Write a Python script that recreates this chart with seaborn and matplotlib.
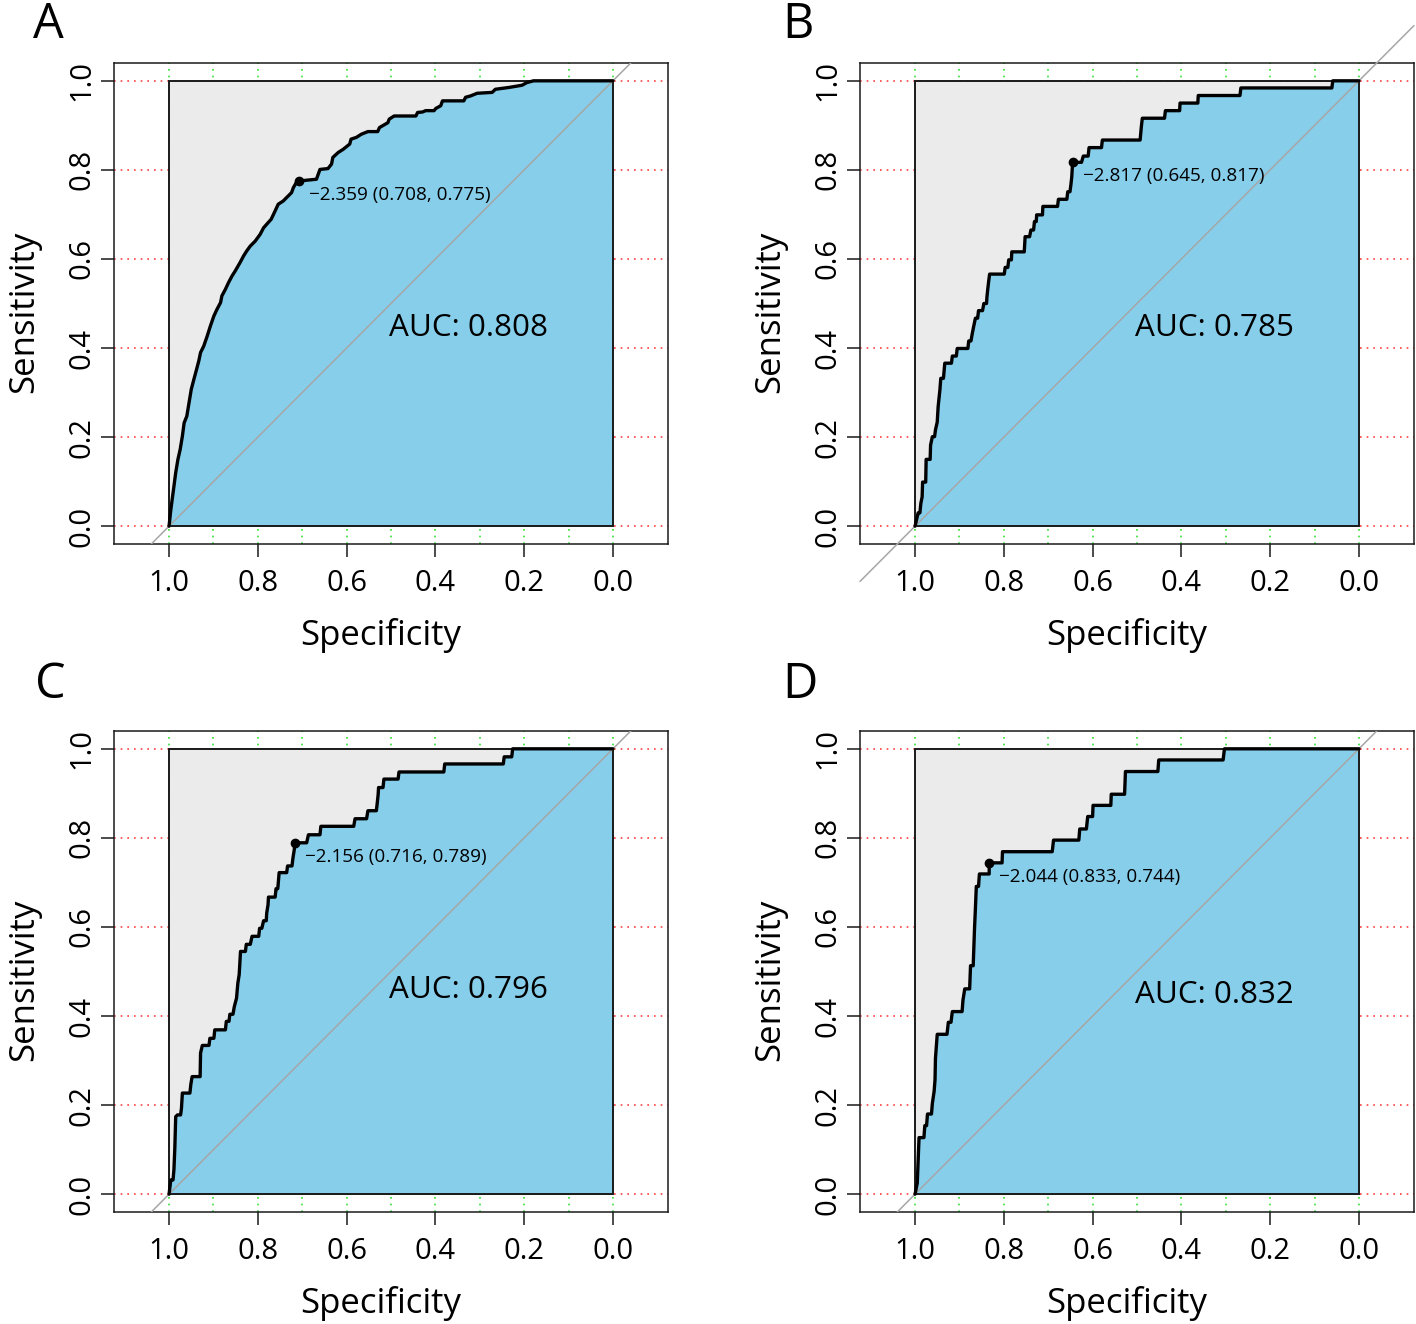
import numpy as np
import seaborn as sns
import matplotlib.pyplot as plt

# ROC coordinates (specificity, sensitivity)
spec_a = [1.000, 0.996, 0.990, 0.985, 0.980, 0.975, 0.970, 0.966, 0.960, 0.955,
          0.950, 0.944, 0.938, 0.933, 0.929, 0.922, 0.914, 0.907, 0.899, 0.892,
          0.884, 0.881, 0.873, 0.866, 0.858, 0.851, 0.840, 0.832, 0.825, 0.817,
          0.806, 0.795, 0.787, 0.780, 0.770, 0.761, 0.754, 0.743, 0.731, 0.724,
          0.720, 0.713, 0.708, 0.668, 0.664, 0.660, 0.642, 0.634, 0.631, 0.619,
          0.608, 0.593, 0.590, 0.578, 0.567, 0.552, 0.530, 0.526, 0.507, 0.504,
          0.493, 0.444, 0.440, 0.429, 0.422, 0.403, 0.399, 0.388, 0.384, 0.336,
          0.332, 0.321, 0.306, 0.272, 0.265, 0.235, 0.205, 0.194, 0.179, 0.000]
sens_a = [0.000, 0.037, 0.082, 0.120, 0.150, 0.172, 0.202, 0.232, 0.247, 0.277,
          0.307, 0.330, 0.352, 0.371, 0.390, 0.404, 0.427, 0.449, 0.472, 0.487,
          0.502, 0.517, 0.532, 0.547, 0.562, 0.573, 0.592, 0.607, 0.618, 0.629,
          0.640, 0.655, 0.670, 0.678, 0.689, 0.708, 0.723, 0.730, 0.742, 0.749,
          0.760, 0.772, 0.775, 0.779, 0.790, 0.801, 0.803, 0.813, 0.828, 0.839,
          0.846, 0.858, 0.869, 0.873, 0.880, 0.886, 0.886, 0.895, 0.906, 0.914,
          0.921, 0.921, 0.929, 0.930, 0.933, 0.933, 0.938, 0.944, 0.955, 0.955,
          0.963, 0.966, 0.972, 0.974, 0.981, 0.985, 0.990, 0.996, 1.000, 1.000]

spec_b = [1.000, 0.996, 0.993, 0.989, 0.987, 0.984, 0.983, 0.976, 0.975, 0.966,
          0.965, 0.961, 0.956, 0.954, 0.950, 0.948, 0.944, 0.942, 0.936, 0.933,
          0.918, 0.916, 0.907, 0.905, 0.881, 0.879, 0.874, 0.871, 0.868, 0.864,
          0.859, 0.857, 0.848, 0.845, 0.839, 0.838, 0.836, 0.834, 0.832, 0.799,
          0.797, 0.791, 0.789, 0.783, 0.782, 0.754, 0.752, 0.742, 0.739, 0.733,
          0.731, 0.727, 0.726, 0.713, 0.712, 0.679, 0.677, 0.658, 0.656, 0.651,
          0.649, 0.647, 0.645, 0.625, 0.621, 0.610, 0.608, 0.580, 0.578, 0.493,
          0.490, 0.488, 0.438, 0.436, 0.404, 0.403, 0.363, 0.362, 0.268, 0.266,
          0.061, 0.059, 0.000]
sens_b = [0.000, 0.017, 0.030, 0.030, 0.051, 0.066, 0.099, 0.099, 0.150, 0.150,
          0.182, 0.201, 0.201, 0.216, 0.234, 0.268, 0.306, 0.332, 0.332, 0.366,
          0.366, 0.382, 0.382, 0.399, 0.399, 0.416, 0.416, 0.433, 0.448, 0.467,
          0.467, 0.484, 0.484, 0.500, 0.500, 0.515, 0.534, 0.551, 0.566, 0.566,
          0.581, 0.581, 0.598, 0.598, 0.616, 0.616, 0.650, 0.650, 0.665, 0.665,
          0.684, 0.684, 0.699, 0.699, 0.718, 0.718, 0.734, 0.734, 0.751, 0.751,
          0.766, 0.784, 0.817, 0.817, 0.831, 0.831, 0.850, 0.850, 0.867, 0.867,
          0.899, 0.916, 0.916, 0.933, 0.933, 0.950, 0.950, 0.967, 0.967, 0.984,
          0.984, 1.000, 1.000]

spec_c = [1.000, 0.996, 0.991, 0.989, 0.987, 0.985, 0.981, 0.974, 0.972, 0.970,
          0.953, 0.951, 0.948, 0.930, 0.929, 0.925, 0.910, 0.908, 0.899, 0.897,
          0.873, 0.871, 0.865, 0.863, 0.856, 0.853, 0.848, 0.845, 0.842, 0.839,
          0.828, 0.826, 0.817, 0.813, 0.798, 0.796, 0.791, 0.787, 0.781, 0.780,
          0.777, 0.776, 0.761, 0.759, 0.755, 0.752, 0.735, 0.733, 0.723, 0.721,
          0.718, 0.716, 0.690, 0.686, 0.660, 0.658, 0.584, 0.581, 0.555, 0.552,
          0.533, 0.531, 0.529, 0.528, 0.518, 0.516, 0.484, 0.482, 0.381, 0.379,
          0.247, 0.245, 0.228, 0.226, 0.000]
sens_c = [0.000, 0.032, 0.032, 0.055, 0.103, 0.174, 0.178, 0.178, 0.193, 0.227,
          0.227, 0.246, 0.264, 0.264, 0.317, 0.334, 0.334, 0.350, 0.350, 0.369,
          0.369, 0.388, 0.388, 0.404, 0.404, 0.421, 0.440, 0.474, 0.493, 0.545,
          0.545, 0.561, 0.561, 0.579, 0.579, 0.597, 0.597, 0.614, 0.614, 0.631,
          0.650, 0.667, 0.667, 0.686, 0.686, 0.722, 0.722, 0.737, 0.737, 0.754,
          0.773, 0.789, 0.789, 0.807, 0.807, 0.826, 0.826, 0.843, 0.843, 0.861,
          0.861, 0.878, 0.897, 0.913, 0.913, 0.932, 0.932, 0.948, 0.948, 0.966,
          0.966, 0.982, 0.982, 1.000, 1.000]

spec_d = [1.000, 0.995, 0.991, 0.980, 0.978, 0.974, 0.972, 0.963, 0.961, 0.957,
          0.955, 0.954, 0.950, 0.928, 0.925, 0.919, 0.916, 0.894, 0.892, 0.888,
          0.877, 0.875, 0.869, 0.868, 0.866, 0.864, 0.862, 0.857, 0.855, 0.833,
          0.833, 0.804, 0.803, 0.691, 0.688, 0.631, 0.629, 0.614, 0.611, 0.600,
          0.599, 0.559, 0.558, 0.528, 0.526, 0.453, 0.451, 0.306, 0.303, 0.000]
sens_d = [0.000, 0.025, 0.127, 0.127, 0.154, 0.154, 0.180, 0.180, 0.204, 0.231,
          0.257, 0.305, 0.359, 0.359, 0.386, 0.386, 0.410, 0.410, 0.436, 0.461,
          0.461, 0.513, 0.513, 0.541, 0.597, 0.642, 0.691, 0.691, 0.719, 0.719,
          0.744, 0.744, 0.769, 0.769, 0.795, 0.795, 0.820, 0.820, 0.848, 0.848,
          0.873, 0.873, 0.898, 0.898, 0.949, 0.949, 0.975, 0.975, 1.000, 1.000]

panel_letters = ['A', 'B', 'C', 'D']
auc_values = [0.808, 0.785, 0.796, 0.832]
best_thresholds = [-2.359, -2.817, -2.156, -2.044]
best_spec = [0.708, 0.645, 0.716, 0.833]
best_sens = [0.775, 0.817, 0.789, 0.744]
tick_values = [1.0, 0.8, 0.6, 0.4, 0.2, 0.0]

curves = [(spec_a, sens_a), (spec_b, sens_b), (spec_c, sens_c), (spec_d, sens_d)]

sns.set_theme(style='ticks')
plt.rcParams['font.family'] = ['Open Sans', 'DejaVu Sans']
plt.rcParams['text.color'] = 'black'
plt.rcParams['axes.labelcolor'] = 'black'

W, H = 1416, 1324
fig = plt.figure(figsize=(W / 100, H / 100), dpi=100)

# axes boxes in pixels: left, top
boxes = [(114, 63), (860, 63), (114, 731), (860, 731)]
letter_pos = [(33, 38), (782, 38), (35, 698), (782, 698)]
auc_y = [0.426, 0.426, 0.440, 0.429]
ax_w, ax_h = 554, 481

for i, (spec, sens) in enumerate(curves):
    left, top = boxes[i]
    ax = fig.add_axes([left / W, 1 - (top + ax_h) / H, ax_w / W, ax_h / H])
    ax.set_xlim(1.124, -0.124)
    ax.set_ylim(-0.04, 1.04)

    # grid behind everything
    for v in np.linspace(0, 1, 11):
        ax.axvline(v, color='#2fe02f', ls=(0, (1, 3)), lw=1.2, zorder=0)
    for h in tick_values:
        ax.axhline(h, color='#ff4040', ls=(0, (1, 3)), lw=1.2, zorder=0)

    ax.add_patch(plt.Rectangle((0, 0), 1, 1, facecolor='#EBEBEB', edgecolor='none', zorder=1))
    ax.fill_between(spec, sens, 0, color='#87CEEB', lw=0, zorder=2)
    ax.add_patch(plt.Rectangle((0, 0), 1, 1, fill=False, edgecolor='#1a1a1a', lw=1.4, zorder=3))

    # chance line (panel B is not clipped to the plot box)
    ax.plot([1.124, -0.124], [-0.124, 1.124], color='#A6A6A6', lw=1.1, zorder=3,
            clip_on=(panel_letters[i] != 'B'))

    sns.lineplot(x=spec, y=sens, sort=False, estimator=None, color='black',
                 lw=2.4, ax=ax, zorder=4)
    ax.plot(best_spec[i], best_sens[i], 'o', color='black', ms=6, zorder=5)

    thr = f'{best_thresholds[i]:.3f}'.replace('-', '\u2212')
    ax.annotate(f'{thr} ({best_spec[i]:.3f}, {best_sens[i]:.3f})',
                (best_spec[i], best_sens[i]), xytext=(7.2, -13.7),
                textcoords='offset points', ha='left', va='baseline',
                fontsize=13.6, color='black')
    ax.text(0.505, auc_y[i], f'AUC: {auc_values[i]:.3f}', ha='left', va='baseline',
            fontsize=22.6, color='black')

    ax.set_xticks(tick_values)
    ax.set_xticklabels([f'{t:.1f}' for t in tick_values])
    ax.set_yticks(tick_values)
    ax.set_yticklabels([f'{t:.1f}' for t in tick_values], rotation=90, va='center')
    ax.tick_params(direction='out', length=9.4, width=1.1, color='#1a1a1a',
                   labelsize=21, labelcolor='black')
    ax.tick_params(axis='x', pad=8.4)
    ax.tick_params(axis='y', pad=3.5)
    for sp in ax.spines.values():
        sp.set_color('#1a1a1a')
        sp.set_linewidth(1.1)

    ax.set_xlabel('Specificity', fontsize=25, color='black')
    ax.xaxis.label.set_va('baseline')
    ax.xaxis.set_label_coords(0.481, -0.21)
    ax.set_ylabel('Sensitivity', fontsize=25, color='black')
    ax.yaxis.label.set_va('baseline')
    ax.yaxis.set_label_coords(-0.146, 0.483)

    lx, ly = letter_pos[i]
    fig.text(lx / W, 1 - ly / H, panel_letters[i], fontsize=35, va='baseline',
             color='black')

fig.savefig('out.png', dpi=100, facecolor='white')
